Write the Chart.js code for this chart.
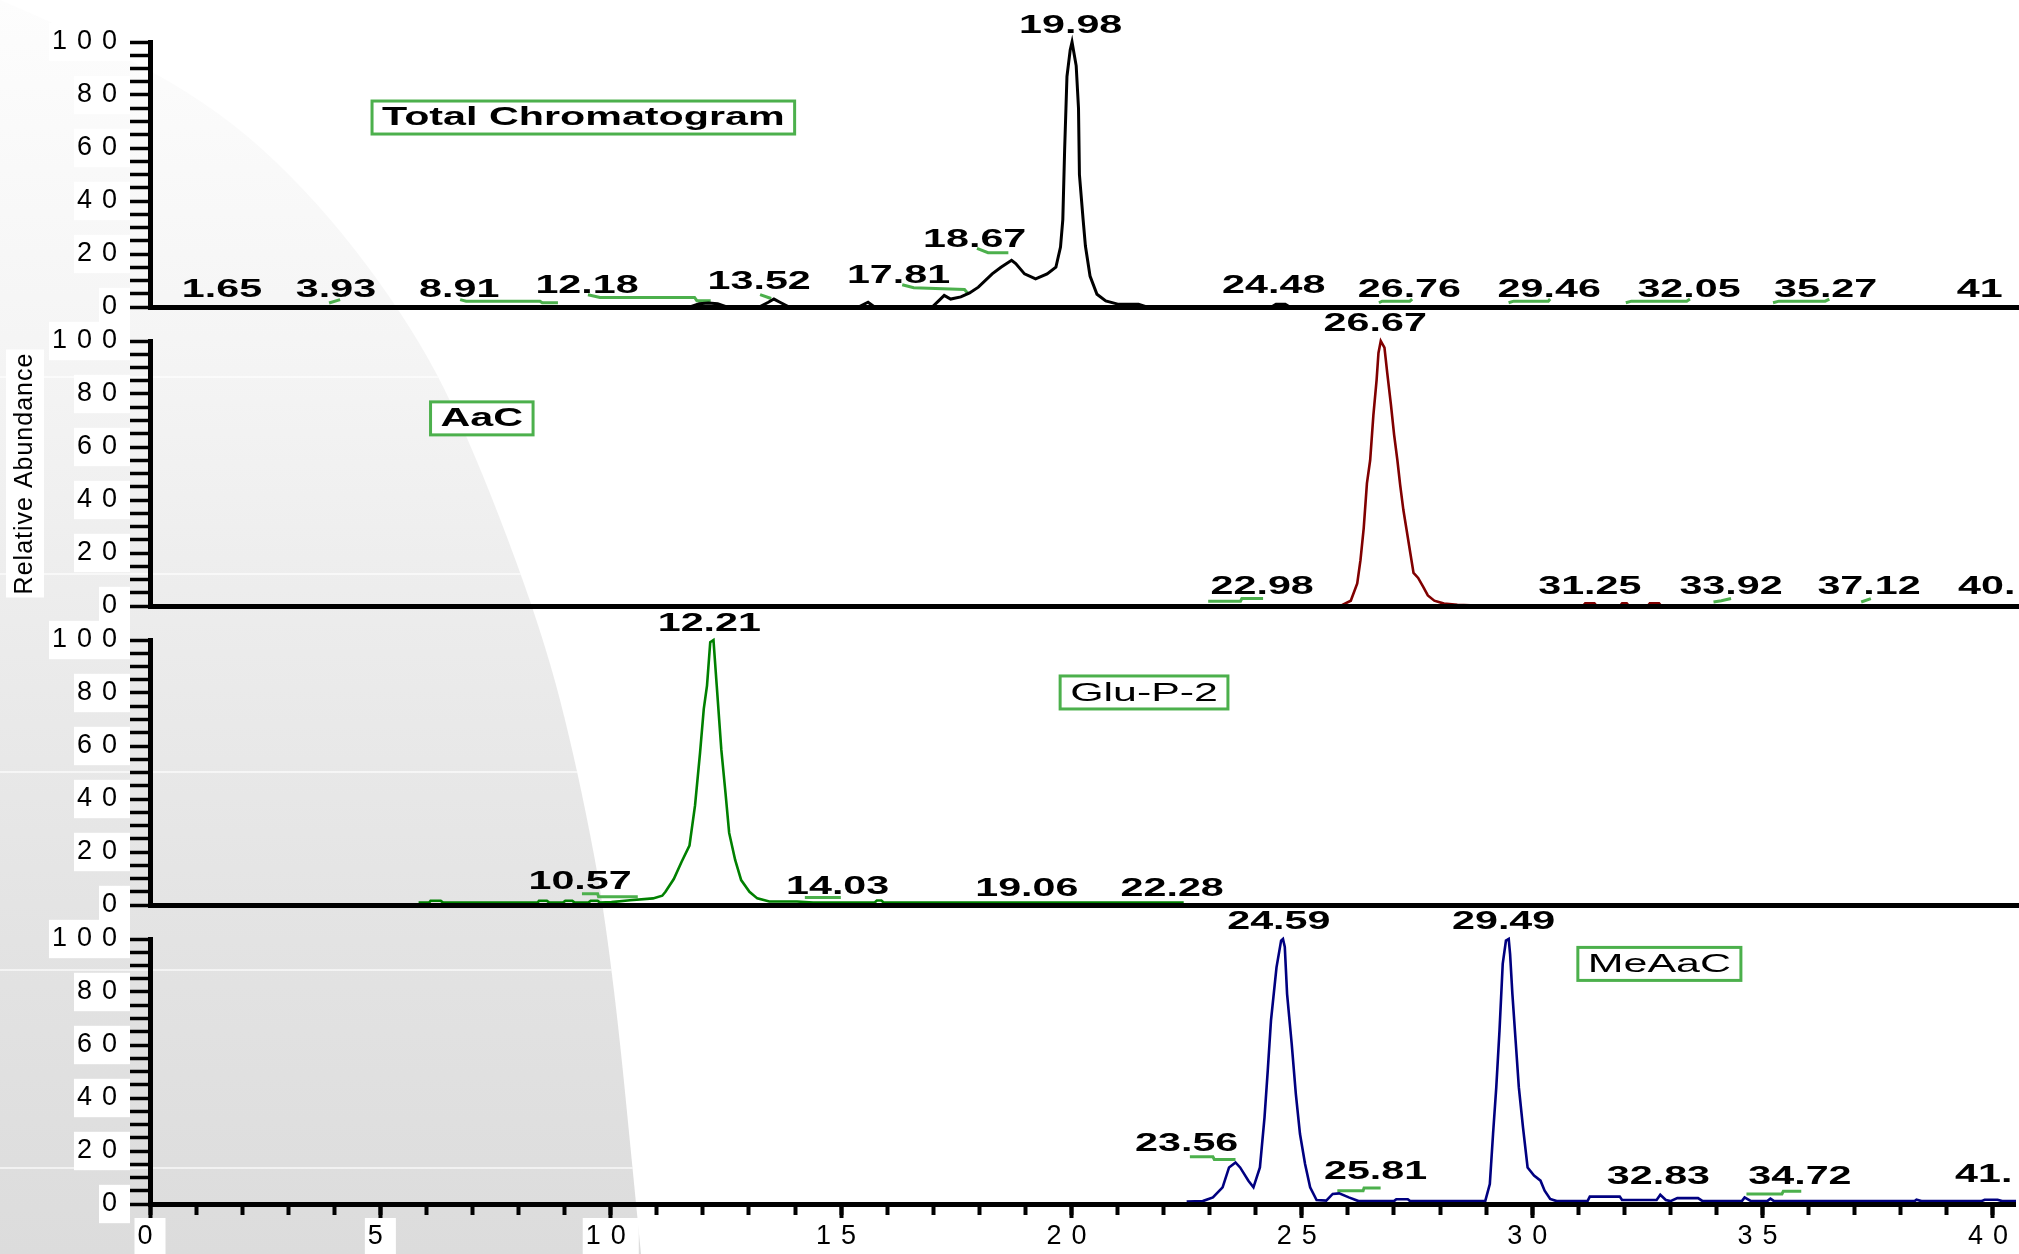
<!DOCTYPE html>
<html>
<head>
<meta charset="utf-8">
<title>Chromatograms</title>
<script src="https://cdn.jsdelivr.net/npm/chart.js@4.4.1/dist/chart.umd.min.js"></script>
<style>
  html, body { margin: 0; padding: 0; background: #fff; overflow: hidden; }
  #page { position: relative; width: 2019px; height: 1254px; }
  #page canvas { position: absolute; left: 0; }
</style>
</head>
<body>
<div id="page">
  <canvas id="bg" width="2019" height="1254" style="top:0"></canvas>
  <canvas id="p1" width="2019" height="339" style="top:0"></canvas>
  <canvas id="p2" width="2019" height="339" style="top:299px"></canvas>
  <canvas id="p3" width="2019" height="339" style="top:598px"></canvas>
  <canvas id="p4" width="2019" height="357" style="top:897px"></canvas>
</div>
<script>
// axes
const timeMax = 40.5;
const timeTicks = [0, 5, 10, 15, 20, 25, 30, 35, 40];
const abundanceTicks = [0, 20, 40, 60, 80, 100];
const timeMinorStep = 1;
const abundanceMinorStep = 5;

// traces: [retention time (min), relative abundance (%)]
const totalTrace = [[0,0],[11.7,0],[11.9,1.2],[12.1,1.5],[12.3,1.2],[12.5,0],[13.2,0],[13.4,1.8],[13.52,3],[13.65,1.8],[13.85,0],
  [15.35,0],[15.56,1.8],[15.7,0],[16.95,0],[17.1,2.5],[17.21,4.4],[17.35,3],[17.57,3.8],[17.76,5.3],[17.95,7.5],[18.25,12.5],
  [18.44,15],[18.67,17.6],[18.76,16.4],[18.95,12.5],[19.19,10.6],[19.44,12.5],[19.63,15],[19.73,22.6],[19.78,33],[19.82,59.6],
  [19.87,87],[19.94,97],[19.98,100],[20.03,95],[20.07,91],[20.12,75],[20.14,50],[20.22,33],[20.27,23],[20.37,11.7],[20.52,4.8],
  [20.71,2.3],[20.99,1],[21.42,1],[21.6,0],[24.3,0],[24.4,1],[24.6,1],[24.7,0],[40.5,0]];

const aacTrace = [[0,0],[25.8,0],[25.85,0.5],[26.02,2],[26.16,8.5],[26.23,17.3],[26.3,29.3],[26.37,46.3],[26.44,55],[26.51,72],
  [26.58,85.3],[26.62,95.5],[26.67,100],[26.75,97.5],[26.81,88],[26.89,76],[26.96,64.5],[27.03,55],[27.09,45.7],[27.16,36.2],
  [27.23,28.7],[27.31,20],[27.38,12.5],[27.48,10.6],[27.59,7.2],[27.69,4],[27.83,2],[28.04,0.9],[28.33,0.5],[28.75,0.2],[28.9,0],
  [31.05,0],[31.1,1],[31.3,1],[31.35,0],[31.85,0],[31.9,1],[32.0,1],[32.05,0],[32.45,0],[32.5,1],[32.7,1],[32.75,0],[40.5,0]];

const gluTrace = [[5.82,0.9],[6.05,0.9],[6.08,1.6],[6.3,1.6],[6.35,0.9],[8.4,0.9],[8.43,1.6],[8.6,1.6],[8.65,0.9],[8.95,0.9],
  [9.0,1.6],[9.15,1.6],[9.2,0.9],[9.5,0.9],[9.55,1.6],[9.7,1.6],[9.75,0.9],[10.0,1.1],[10.4,1.8],[10.9,2.5],[11.1,3.5],[11.17,5],
  [11.35,9.8],[11.52,16.3],[11.69,22.4],[11.81,37.5],[11.92,57.6],[12.0,74],[12.07,82.8],[12.14,99.2],[12.21,100],[12.28,83],
  [12.38,58.6],[12.47,42.4],[12.55,27.2],[12.68,17],[12.81,9.4],[12.99,5],[13.16,2.5],[13.42,1.3],[14.02,1.3],[14.37,0.9],
  [15.7,0.9],[15.75,1.7],[15.85,1.7],[15.9,0.9],[22.4,0.9]];

const meaacTrace = [[22.5,0.9],[22.85,1.1],[23.07,2.5],[23.28,6.3],[23.42,13.8],[23.56,15.7],[23.66,13.8],[23.84,8.8],[23.95,6.3],
  [24.09,13.8],[24.19,32.7],[24.26,50.3],[24.33,69.2],[24.45,89.3],[24.55,99.4],[24.59,100],[24.63,97],[24.68,79.2],[24.78,60.4],
  [24.87,41.5],[24.96,26.4],[25.07,15.1],[25.18,6.3],[25.32,1.5],[25.53,1.3],[25.67,3.8],[25.81,4.0],[26.02,2.5],[26.23,1.1],
  [27.0,1.1],[27.05,1.8],[27.3,1.8],[27.35,1.1],[28.98,1.1],[29.08,7.5],[29.15,26.4],[29.22,44],[29.29,65.4],[29.36,90.6],
  [29.43,99.4],[29.49,100],[29.52,94.3],[29.57,79.2],[29.64,61.6],[29.71,44],[29.8,28.9],[29.9,13.8],[30.04,10.7],[30.18,8.8],
  [30.27,5],[30.39,1.9],[30.53,1.1],[31.2,1.1],[31.25,2.8],[31.9,2.8],[31.95,1.5],[32.7,1.5],[32.78,3.5],[32.9,1.5],[33.0,1.1],
  [33.15,2.2],[33.6,2.2],[33.7,1.1],[34.55,1.1],[34.61,2.5],[34.75,1.1],[35.1,1.1],[35.17,2],[35.25,1.1],[38.3,1.1],[38.34,1.6],
  [38.45,1.1],[39.75,1.1],[39.82,1.6],[40.1,1.6],[40.2,1.1],[40.5,1.1]];

// integration baselines drawn under the labelled peaks
const totalMarks = [
  [[3.88,1.5],[4.12,2.8]],
  [[6.72,2.8],[6.85,2.2],[8.45,2.2],[8.5,1.6],[8.84,1.6]],
  [[9.49,4.6],[9.75,3.6],[11.8,3.6],[11.85,2.4],[12.15,2.4]],
  [[13.22,4.7],[13.46,3.2]],
  [[16.3,8.4],[16.55,7.3],[17.65,6.6],[17.72,5.2]],
  [[17.92,22.1],[18.16,20.5],[18.6,20.5]],
  [[26.63,1.6],[26.7,2.2],[27.3,2.2],[27.35,3]],
  [[29.44,1.6],[29.55,2.2],[30.3,2.2],[30.34,3]],
  [[31.98,1.6],[32.1,2.2],[33.3,2.2],[33.37,3]],
  [[35.17,1.6],[35.3,2.2],[36.3,2.2],[36.39,3]]
];
const aacMarks = [
  [[22.93,1.8],[23.63,1.8],[23.66,2.8],[24.12,2.8]],
  [[33.88,1.5],[34.05,2],[34.26,2.8]],
  [[37.08,1.5],[37.29,2.8]]
];
const gluMarks = [
  [[9.36,4.2],[9.7,4.2],[9.72,3.1],[10.57,3.1]],
  [[14.19,2.8],[14.97,2.8]]
];
const meaacMarks = [
  [[22.57,17.8],[23.07,17.8],[23.1,16.8],[23.56,16.8]],
  [[25.77,5],[26.33,5],[26.35,6],[26.71,6]],
  [[34.65,3.8],[35.42,3.8],[35.45,4.8],[35.84,4.8]]
];

// peak labels: [text, time, abundance]
const totalPeaks = [['1.65',1.56,6.5],['3.93',4.03,6.5],['8.91',6.7,6.5],['12.18',9.47,8],['13.52',13.2,9.5],
  ['17.81',16.22,11.5],['18.67',17.87,25.3],['19.98',19.95,106],['24.48',24.35,7.7],['26.76',27.29,6.5],
  ['29.46',30.32,6.5],['32.05',33.35,6.5],['35.27',36.31,6.5],['41',39.65,6.5]];
const aacPeaks = [['26.67',26.55,106.4],['22.98',24.1,7.2],['31.25',31.2,7],['33.92',34.26,7],['37.12',37.25,7],['40.',39.8,7]];
const gluPeaks = [['12.21',12.12,106],['10.57',9.32,8.7],['14.03',14.9,6.8],['19.06',19.0,6],['22.28',22.15,6]];
const meaacPeaks = [['24.59',24.5,106.5],['29.49',29.38,106.5],['23.56',22.5,22.6],['25.81',26.6,11.9],
  ['32.83',32.74,10],['34.72',35.81,10],['41.',39.8,11]];

const panels = [
  { id: 'p1', trace: totalTrace, marks: totalMarks, peaks: totalPeaks, color: '#000000', width: 3,
    name: 'Total Chromatogram', nameAt: [9.39, 71.5], nameFont: 'bold 25px "Liberation Sans"', bottomSpace: 32 },
  { id: 'p2', trace: aacTrace, marks: aacMarks, peaks: aacPeaks, color: '#800000', width: 2.6,
    name: 'AaC', nameAt: [7.19, 70.8], nameFont: 'bold 25px "Liberation Sans"', bottomSpace: 32, yTitle: 'Relative Abundance' },
  { id: 'p3', trace: gluTrace, marks: gluMarks, peaks: gluPeaks, color: '#008000', width: 2.6,
    name: 'Glu-P-2', nameAt: [21.54, 80.2], nameFont: '26px "Liberation Sans"', bottomSpace: 32 },
  { id: 'p4', trace: meaacTrace, marks: meaacMarks, peaks: meaacPeaks, color: '#000080', width: 2.6,
    name: 'MeAaC', nameAt: [32.76, 90.6], nameFont: '26px "Liberation Sans"', bottomSpace: 50, timeAxis: true }
];

const markGreen = '#4cb04c';
const labelScale = 1.65;

Chart.defaults.font.family = '"Liberation Sans", Arial, sans-serif';
Chart.defaults.color = '#000';

// slide background: grey swoosh on the left with faint banding
function drawBackground() {
  const ctx = document.getElementById('bg').getContext('2d');
  const edge = [[0, 0], [60, 25], [208, 100], [318, 200], [415, 330], [473, 447], [542, 630], [578, 770], [610, 940], [641, 1254]];
  ctx.beginPath();
  ctx.moveTo(edge[0][0], edge[0][1]);
  for (let i = 1; i < edge.length - 1; i++) {
    const mx = (edge[i][0] + edge[i + 1][0]) / 2, my = (edge[i][1] + edge[i + 1][1]) / 2;
    ctx.quadraticCurveTo(edge[i][0], edge[i][1], mx, my);
  }
  ctx.lineTo(edge[edge.length - 1][0], edge[edge.length - 1][1]);
  ctx.lineTo(0, 1254);
  ctx.closePath();
  const g = ctx.createLinearGradient(0, 0, 0, 1254);
  g.addColorStop(0, '#fdfdfd');
  g.addColorStop(0.27, '#f5f5f5');
  g.addColorStop(0.52, '#ebebeb');
  g.addColorStop(0.75, '#e3e3e3');
  g.addColorStop(1, '#dcdcdc');
  ctx.fillStyle = g;
  ctx.fill();
  ctx.save();
  ctx.clip();
  ctx.strokeStyle = 'rgba(255,255,255,0.8)';
  ctx.lineWidth = 1.5;
  [377, 574, 772, 970, 1168].forEach(y => {
    ctx.beginPath();
    ctx.moveTo(0, y);
    ctx.lineTo(700, y);
    ctx.stroke();
  });
  ctx.restore();
}

function stretchedText(ctx, text, x, y, font, sx) {
  ctx.save();
  ctx.letterSpacing = '0px';
  ctx.font = font;
  ctx.fillStyle = '#000';
  ctx.textAlign = 'center';
  ctx.textBaseline = 'middle';
  ctx.translate(x, y);
  ctx.scale(sx, 1);
  ctx.fillText(text, 0, 0);
  ctx.restore();
}

function nameBox(ctx, text, x, y, font) {
  ctx.save();
  ctx.letterSpacing = '0px';
  ctx.font = font;
  const w = ctx.measureText(text).width * labelScale + 20;
  const h = 33;
  ctx.fillStyle = '#fff';
  ctx.fillRect(x - w / 2, y - h / 2, w, h);
  ctx.strokeStyle = markGreen;
  ctx.lineWidth = 3;
  ctx.strokeRect(x - w / 2, y - h / 2, w, h);
  ctx.restore();
  stretchedText(ctx, text, x, y + 1, font, labelScale);
}

function joinSegments(segs) {
  const out = [];
  segs.forEach((seg, i) => {
    if (i) out.push({ x: seg[0][0], y: null });
    seg.forEach(([t, v]) => out.push({ x: t, y: v }));
  });
  return out;
}

function minorTicks(max, step) {
  return s => {
    s.ticks = [];
    for (let v = 0; v <= max + 1e-9; v += step) s.ticks.push({ value: v });
  };
}

// the picture's text is wide: tick labels get extra letter spacing
const spacing = {
  id: 'spacing',
  beforeLayout(chart) { chart.ctx.letterSpacing = '10px'; },
  beforeDraw(chart) { chart.ctx.letterSpacing = '1px'; },
  afterDatasetsDraw(chart) { chart.ctx.letterSpacing = '10px'; }
};

function annotations(p) {
  return {
    id: 'annotations',
    beforeDraw(chart) {
      if (!p.yTitle) return;
      const ctx = chart.ctx;
      const cy = (chart.chartArea.top + chart.chartArea.bottom) / 2;
      ctx.save();
      ctx.fillStyle = '#fff';
      ctx.fillRect(6, cy - 124, 38, 248);
      ctx.restore();
    },
    afterDraw(chart) {
      const ctx = chart.ctx;
      const xs = chart.scales.x, ys = chart.scales.y;
      p.peaks.forEach(([text, t, v]) => {
        stretchedText(ctx, text, xs.getPixelForValue(t), ys.getPixelForValue(v), 'bold 25px "Liberation Sans"', labelScale);
      });
      nameBox(ctx, p.name, xs.getPixelForValue(p.nameAt[0]), ys.getPixelForValue(p.nameAt[1]), p.nameFont);
    }
  };
}

function makeScales(p) {
  const scales = {
    // labelled abundance axis: outer box holding the labels and long ticks
    y: {
      type: 'linear', position: 'left', min: 0, max: 100, weight: 1,
      afterFit: s => { s.width = 150; },
      afterBuildTicks: s => { s.ticks = abundanceTicks.map(v => ({ value: v })); },
      grid: { drawOnChartArea: false, tickLength: 28, tickWidth: 3, color: '#000', tickColor: '#000' },
      border: { display: true, color: '#000', width: 5, z: 1 },
      ticks: { z: 1, color: '#000', font: { size: 27 }, padding: -5,
        showLabelBackdrop: true, backdropColor: '#fff', backdropPadding: { x: 3, y: 3 } },
      title: { display: !!p.yTitle, text: p.yTitle || '', color: '#000', font: { size: 25 }, padding: { top: 10, bottom: 0 } }
    },
    // minor abundance ticks, zero-width box right on the axis line
    ym: {
      type: 'linear', position: 'left', min: 0, max: 100, weight: 0,
      afterFit: s => { s.width = 0; },
      afterBuildTicks: minorTicks(100, abundanceMinorStep),
      ticks: { display: false },
      grid: { drawOnChartArea: false, tickLength: 20, tickWidth: 3.5, color: '#000', tickColor: '#000' },
      border: { display: false }
    }
  };
  if (p.timeAxis) {
    scales.x = {
      type: 'linear', position: 'bottom', min: 0, max: timeMax, weight: 1,
      afterFit: s => { s.height = p.bottomSpace; },
      afterBuildTicks: s => { s.ticks = timeTicks.map(v => ({ value: v })); },
      grid: { drawOnChartArea: false, tickLength: 15, tickWidth: 4, color: '#000', tickColor: '#000' },
      border: { display: true, color: '#000', width: 5, z: 1 },
      ticks: { z: 1, color: '#000', font: { size: 27 }, padding: 1, maxRotation: 0, autoSkip: false,
        showLabelBackdrop: true, backdropColor: '#fff', backdropPadding: { x: 3, y: 2 } }
    };
    scales.xm = {
      type: 'linear', position: 'bottom', min: 0, max: timeMax, weight: 0,
      afterFit: s => { s.height = 0; },
      afterBuildTicks: minorTicks(40, timeMinorStep),
      ticks: { display: false },
      grid: { drawOnChartArea: false, tickLength: 11, tickWidth: 4, color: '#000', tickColor: '#000' },
      border: { display: false }
    };
  } else {
    scales.x = {
      type: 'linear', position: 'bottom', min: 0, max: timeMax,
      afterFit: s => { s.height = p.bottomSpace; },
      ticks: { display: false },
      grid: { display: false },
      border: { display: true, color: '#000', width: 5, z: 1 }
    };
  }
  return scales;
}

drawBackground();

panels.forEach(p => {
  new Chart(document.getElementById(p.id), {
    type: 'line',
    data: {
      datasets: [
        {
          data: p.trace.map(([t, v]) => ({ x: t, y: v })),
          borderColor: p.color, borderWidth: p.width, pointRadius: 0, tension: 0,
          xAxisID: 'x', yAxisID: 'y', clip: false
        },
        {
          data: joinSegments(p.marks),
          borderColor: markGreen, borderWidth: 3, pointRadius: 0, tension: 0, spanGaps: false,
          xAxisID: 'x', yAxisID: 'y', clip: false
        }
      ]
    },
    options: {
      responsive: false,
      devicePixelRatio: 1,
      animation: false,
      layout: { padding: { top: 42, right: 0, bottom: 0, left: 0 }, autoPadding: false },
      plugins: { legend: { display: false }, tooltip: { enabled: false } },
      events: [],
      scales: makeScales(p)
    },
    plugins: [spacing, annotations(p)]
  });
});
</script>
</body>
</html>
